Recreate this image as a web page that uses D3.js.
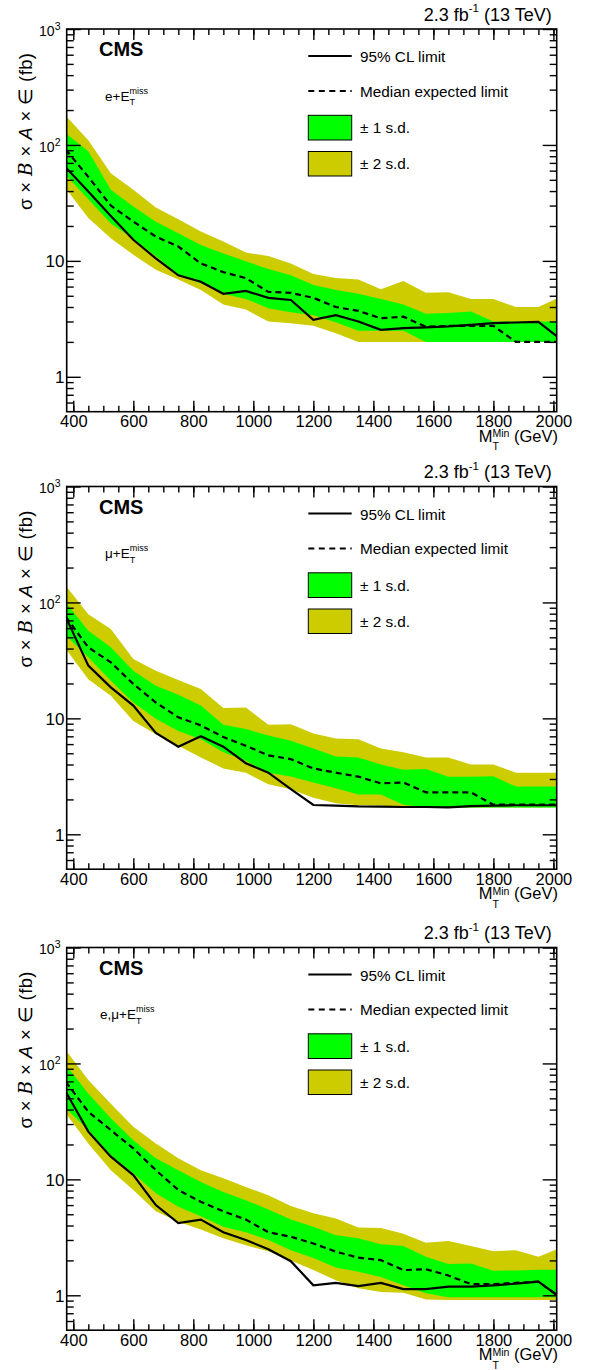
<!DOCTYPE html>
<html>
<head>
<meta charset="utf-8">
<script src="https://cdn.jsdelivr.net/npm/d3@7"></script>
<style>
body { margin: 0; background: #fff; }
svg { display: block; }
text { white-space: pre; fill: #000; }
</style>
</head>
<body>
<script>
// mass points (GeV) shared by all three channels
var massPoints = [375, 450, 525, 600, 675, 750, 825, 900, 975, 1050, 1125, 1200,
    1275, 1350, 1425, 1500, 1575, 1650, 1725, 1800, 1875, 1950, 2025];

// electron channel
var eleObs = [64, 39.6, 24.4, 15.2, 10.5, 7.5, 6.6, 5.2, 5.5, 4.8, 4.6, 3.1, 3.4, 3.0, 2.54, 2.63, 2.67, 2.72, 2.8, 2.9, 2.94, 2.98, 2.1];
var eleExp = [91, 53, 30, 21.8, 16.2, 13.3, 9.5, 8.0, 7.1, 5.4, 5.3, 4.8, 4.0, 3.7, 3.2, 3.3, 2.7, 2.75, 2.75, 2.75, 2.0, 2.0, 2.0];
var eleUp1 = [126, 88, 41, 29.4, 21.8, 17.3, 13.7, 11.6, 9.9, 8.5, 7.5, 6.2, 5.6, 5.2, 4.7, 4.2, 3.5, 3.55, 3.65, 3.0, 3.0, 3.0, 3.0];
var eleDn1 = [55, 34, 21, 15.5, 11, 7.6, 6.4, 5.2, 4.7, 3.9, 3.6, 3.4, 2.95, 2.5, 2.5, 2.5, 2.0, 2.0, 2.0, 2.0, 2.0, 2.0, 2.0];
var eleUp2 = [178, 110, 57, 41, 28.8, 22.9, 17.9, 14.7, 11.8, 11.0, 9.5, 7.7, 7.1, 6.9, 5.7, 6.7, 5.3, 5.35, 4.7, 4.7, 4.0, 4.0, 4.9];
var eleDn2 = [42, 23.4, 15.7, 11.3, 8.4, 6.9, 5.6, 4.2, 3.8, 3.0, 2.9, 2.75, 2.38, 2.0, 2.0, 2.0, 2.0, 2.0, 2.0, 2.0, 2.0, 2.0, 2.0];

// muon channel
var muObs = [75, 28.5, 18.5, 12.9, 7.5, 5.7, 7.0, 5.7, 4.1, 3.4, 2.45, 1.79, 1.77, 1.74, 1.73, 1.72, 1.72, 1.71, 1.75, 1.77, 1.78, 1.78, 1.78];
var muExp = [75, 41, 30.4, 19.8, 13.7, 10.2, 8.7, 6.9, 5.8, 4.8, 4.45, 3.7, 3.4, 3.14, 2.75, 2.8, 2.3, 2.3, 2.3, 1.8, 1.8, 1.8, 1.8];
var muUp1 = [100, 57, 41, 25.8, 19.1, 16.0, 12.9, 8.8, 8.1, 7.1, 6.4, 5.5, 4.7, 4.6, 4.0, 3.6, 3.65, 3.14, 3.14, 3.16, 2.58, 2.58, 2.58];
var muDn1 = [52, 33.6, 21.1, 13.7, 9.9, 7.8, 6.6, 5.1, 4.3, 3.4, 3.15, 2.8, 2.5, 2.2, 2.2, 1.8, 1.7, 1.7, 1.7, 1.7, 1.7, 1.7, 1.7];
var muUp2 = [139, 79, 59, 32.5, 25.8, 21.4, 17.9, 12.3, 12.4, 8.8, 8.9, 7.4, 6.7, 6.6, 5.5, 5.1, 4.6, 4.6, 4.0, 4.0, 3.4, 3.4, 3.4];
var muDn2 = [39.6, 21.8, 15.7, 9.5, 7.3, 5.8, 4.6, 3.7, 3.4, 2.7, 2.45, 2.07, 1.85, 1.78, 1.77, 1.7, 1.7, 1.7, 1.7, 1.7, 1.7, 1.7, 1.7];

// combined channel
var combObs = [57, 25.8, 15.7, 10.9, 6.0, 4.2, 4.5, 3.5, 3.0, 2.5, 1.97, 1.22, 1.28, 1.20, 1.28, 1.13, 1.13, 1.19, 1.19, 1.22, 1.26, 1.31, 0.95];
var combExp = [69.5, 38.3, 26.6, 18.5, 12.0, 8.1, 6.4, 5.3, 4.5, 3.5, 3.2, 2.8, 2.38, 2.11, 2.01, 1.65, 1.68, 1.48, 1.25, 1.25, 1.28, 1.31, 0.95];
var combUp1 = [97, 55, 33.6, 21.8, 15.2, 12.0, 9.5, 7.8, 6.6, 5.5, 4.5, 3.9, 3.3, 3.1, 2.75, 2.66, 2.15, 1.86, 1.88, 1.63, 1.64, 1.66, 1.66];
var combDn1 = [41, 26.6, 16.2, 11.3, 7.6, 5.8, 4.8, 3.9, 3.5, 3.0, 2.45, 2.1, 1.74, 1.6, 1.44, 1.22, 1.04, 0.96, 0.96, 0.96, 0.96, 0.96, 0.96];
var combUp2 = [130, 72, 45, 28.5, 20.4, 15.2, 12.0, 10.2, 8.6, 7.3, 5.9, 5.1, 4.6, 3.85, 3.8, 3.4, 2.84, 2.94, 2.66, 2.4, 2.45, 2.15, 2.57];
var combDn2 = [37, 20.4, 12.0, 8.1, 5.3, 4.3, 3.7, 3.1, 2.7, 2.4, 2.0, 1.65, 1.35, 1.15, 1.07, 1.05, 0.92, 0.91, 0.91, 0.91, 0.91, 0.91, 0.91];

// axes and labels
var xMajorTicks = [400, 600, 800, 1000, 1200, 1400, 1600, 1800, 2000];
var xMinorTicks = d3.range(400, 2011, 50);
var yDecades = [1, 10, 100, 1000];
var yMinorTicks = [0.6, 0.7, 0.8, 0.9, 2, 3, 4, 5, 6, 7, 8, 9, 20, 30, 40, 50, 60, 70, 80, 90, 200, 300, 400, 500, 600, 700, 800, 900];
var channelNames = ['e+E', 'μ+E', 'e,μ+E'];
var legendLabels = ['95% CL limit', 'Median expected limit', '± 1 s.d.', '± 2 s.d.'];

var width = 590, height = 1370;
var panelTops = [0, 457.5, 918.5];
var frameL = 66.7, frameR = 556.7, frameT = 29, frameB = 411.7;
var green = '#00ff00', yellow = '#cccc00';

var svg = d3.select('body').append('svg')
    .attr('width', width).attr('height', height)
    .style('font-family', '"Liberation Sans", Arial, Helvetica, sans-serif');

var x = d3.scaleLinear().domain([378, 2011]).range([frameL, frameR]);
var y = d3.scaleLog().domain([0.5, 1000]).range([frameB, frameT]);

// text pieces laid out side by side; "hold" pieces (subscripts) share x with the next one
function richText(g, x0, y0, parts, anchor) {
    var grp = g.append('g');
    var cx = 0, held = 0;
    parts.forEach(function (p) {
        var t = grp.append('text')
            .attr('x', cx).attr('y', p.dy || 0)
            .attr('font-size', p.size)
            .text(p.t);
        if (p.bold) t.attr('font-weight', 'bold');
        if (p.italic) t.attr('font-style', 'italic');
        var w = t.node().getComputedTextLength();
        if (p.hold) {
            held = w;
        } else {
            cx += Math.max(w, held);
            held = 0;
        }
    });
    var sx = anchor === 'end' ? x0 - cx : x0;
    grp.attr('transform', 'translate(' + sx + ',' + y0 + ')');
    return grp;
}

function styleAxis(a) {
    a.select('.domain').remove();
    a.selectAll('.tick line').attr('stroke', '#000').attr('stroke-width', 1.4);
    return a;
}

function drawPanel(i, obs, exp, up1, dn1, up2, dn2) {
    var g = svg.append('g').attr('transform', 'translate(0,' + panelTops[i] + ')');

    var rows = massPoints.map(function (m, k) {
        return { m: m, obs: obs[k], exp: exp[k], up1: up1[k], dn1: dn1[k], up2: up2[k], dn2: dn2[k] };
    });

    g.append('clipPath').attr('id', 'clip' + i)
        .append('rect').attr('x', frameL).attr('y', frameT)
        .attr('width', frameR - frameL).attr('height', frameB - frameT);
    var plot = g.append('g').attr('clip-path', 'url(#clip' + i + ')');

    function band(lo, hi) {
        return d3.area()
            .x(function (d) { return x(d.m); })
            .y0(function (d) { return y(d[lo]); })
            .y1(function (d) { return y(d[hi]); });
    }
    function curve(key) {
        return d3.line()
            .x(function (d) { return x(d.m); })
            .y(function (d) { return y(d[key]); });
    }

    plot.append('path').datum(rows).attr('d', band('dn2', 'up2')).attr('fill', yellow);
    plot.append('path').datum(rows).attr('d', band('dn1', 'up1')).attr('fill', green);
    plot.append('path').datum(rows).attr('d', curve('exp'))
        .attr('fill', 'none').attr('stroke', '#000').attr('stroke-width', 2.2)
        .attr('stroke-dasharray', '6,4');
    plot.append('path').datum(rows).attr('d', curve('obs'))
        .attr('fill', 'none').attr('stroke', '#000').attr('stroke-width', 2.2);

    // ticks, all pointing into the frame
    var ax = styleAxis(g.append('g').attr('transform', 'translate(0,' + frameB + ')')
        .call(d3.axisBottom(x).tickValues(xMajorTicks).tickSize(-11).tickPadding(3.6).tickFormat(d3.format('d'))));
    ax.attr('font-size', 16.5).attr('font-family', null);
    styleAxis(g.append('g').attr('transform', 'translate(0,' + frameB + ')')
        .call(d3.axisBottom(x).tickValues(xMinorTicks).tickSize(-6).tickFormat('')));
    styleAxis(g.append('g').attr('transform', 'translate(0,' + frameT + ')')
        .call(d3.axisTop(x).tickValues(xMajorTicks).tickSize(-11).tickFormat('')));
    styleAxis(g.append('g').attr('transform', 'translate(0,' + frameT + ')')
        .call(d3.axisTop(x).tickValues(xMinorTicks).tickSize(-6).tickFormat('')));
    styleAxis(g.append('g').attr('transform', 'translate(' + frameL + ',0)')
        .call(d3.axisLeft(y).tickValues(yDecades).tickSize(-14).tickFormat('')));
    styleAxis(g.append('g').attr('transform', 'translate(' + frameL + ',0)')
        .call(d3.axisLeft(y).tickValues(yMinorTicks).tickSize(-7).tickFormat('')));
    styleAxis(g.append('g').attr('transform', 'translate(' + frameR + ',0)')
        .call(d3.axisRight(y).tickValues(yDecades).tickSize(-14).tickFormat('')));
    styleAxis(g.append('g').attr('transform', 'translate(' + frameR + ',0)')
        .call(d3.axisRight(y).tickValues(yMinorTicks).tickSize(-7).tickFormat('')));

    g.append('rect').attr('x', frameL).attr('y', frameT)
        .attr('width', frameR - frameL).attr('height', frameB - frameT)
        .attr('fill', 'none').attr('stroke', '#000').attr('stroke-width', 1.6);

    // y tick labels
    yDecades.forEach(function (v) {
        if (v < 100) {
            g.append('text').attr('x', 64.5).attr('y', y(v) + 6.3)
                .attr('text-anchor', 'end').attr('font-size', 17).text(String(v));
        } else {
            richText(g, 60.5, y(v) + 6.8, [
                { t: '10', size: 14 },
                { t: String(Math.round(Math.log10(v))), size: 10.5, dy: -6 }
            ], 'end');
        }
    });

    // axis titles
    richText(g, 558, 441.7, [
        { t: 'M', size: 16.5 },
        { t: 'T', size: 10.5, dy: 8.3, hold: true },
        { t: 'Min', size: 10.5, dy: -4.4 },
        { t: ' (GeV)', size: 16.5 }
    ], 'end');

    var yt = g.append('text').attr('transform', 'translate(31.5,53) rotate(-90)')
        .attr('text-anchor', 'end').attr('font-size', 18.5)
        .attr('textLength', 157).attr('lengthAdjust', 'spacing');
    yt.append('tspan').text('σ × ');
    yt.append('tspan').attr('font-style', 'italic').attr('font-family', '"DejaVu Serif", serif').text('B');
    yt.append('tspan').text(' × ');
    yt.append('tspan').attr('font-style', 'italic').text('A');
    yt.append('tspan').text(' × ∈ (fb)');

    // header texts
    richText(g, 551.7, 20.7, [
        { t: '2.3 fb', size: 18 },
        { t: '-1', size: 11.5, dy: -8.5 },
        { t: ' (13 TeV)', size: 18 }
    ], 'end');
    g.append('text').attr('x', 99).attr('y', 56)
        .attr('font-size', 20).attr('font-weight', 'bold').text('CMS');
    richText(g, i === 2 ? 100 : 105, 100.5, [
        { t: channelNames[i], size: 13.5 },
        { t: 'T', size: 9, dy: 4.5, hold: true },
        { t: 'miss', size: 9, dy: -7 }
    ]);

    // legend
    var lx0 = 308.3, lx1 = 351.7;
    g.append('line').attr('x1', lx0).attr('x2', lx1).attr('y1', 56).attr('y2', 56)
        .attr('stroke', '#000').attr('stroke-width', 2.2);
    g.append('line').attr('x1', lx0).attr('x2', lx1).attr('y1', 91).attr('y2', 91)
        .attr('stroke', '#000').attr('stroke-width', 2.2).attr('stroke-dasharray', '6,4.5');
    g.append('rect').attr('x', lx0).attr('y', 115.3).attr('width', lx1 - lx0).attr('height', 24.7)
        .attr('fill', green).attr('stroke', '#000').attr('stroke-width', 1);
    g.append('rect').attr('x', lx0).attr('y', 151.5).attr('width', lx1 - lx0).attr('height', 24.5)
        .attr('fill', yellow).attr('stroke', '#000').attr('stroke-width', 1);
    var legendBase = [62, 96.5, 133.2, 169.2];
    legendLabels.forEach(function (s, k) {
        g.append('text').attr('x', 360).attr('y', legendBase[k])
            .attr('font-size', 15.3).text(s);
    });
}

drawPanel(0, eleObs, eleExp, eleUp1, eleDn1, eleUp2, eleDn2);
drawPanel(1, muObs, muExp, muUp1, muDn1, muUp2, muDn2);
drawPanel(2, combObs, combExp, combUp1, combDn1, combUp2, combDn2);
</script>
</body>
</html>
